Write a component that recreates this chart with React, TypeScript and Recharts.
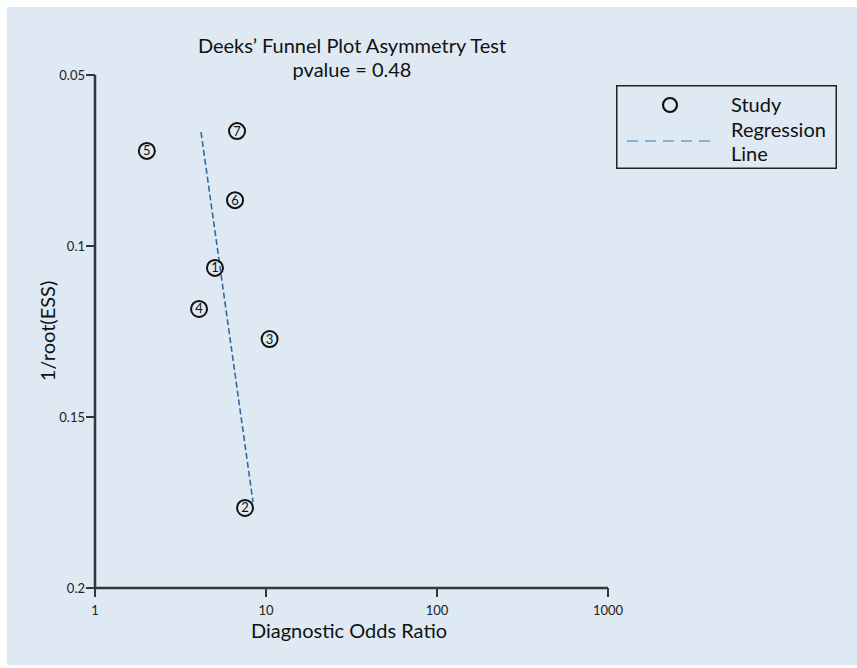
import React from "react";
import {
  ScatterChart,
  Scatter,
  XAxis,
  YAxis,
  Legend,
  Label,
  Customized,
} from "recharts";

const FONT = "Lato, 'Open Sans', sans-serif";

// studies: id, diagnostic odds ratio, 1/root(ESS)
const studyIds = ["1", "2", "3", "4", "5", "6", "7"];
const studyDor = [5.03, 7.54, 10.5, 4.06, 2.01, 6.59, 6.77];
const studyInvRootEss = [0.1064, 0.1766, 0.1272, 0.1184, 0.0722, 0.0866, 0.0664];

// fitted regression line end points
const regressionDor = [4.17, 8.4];
const regressionInvRootEss = [0.0667, 0.1749];

const xTicks = [1, 10, 100, 1000];
const yTicks = [0.05, 0.1, 0.15, 0.2];

const studyData = studyIds.map((id, i) => ({
  id,
  x: studyDor[i],
  y: studyInvRootEss[i],
}));

const regressionData = regressionDor.map((x, i) => ({
  x,
  y: regressionInvRootEss[i],
}));

const AXIS_COLOR = "#30383e";
const LINE_COLOR = "#36679e";

function StudyMarker(props: any) {
  const { cx, cy, payload } = props;
  if (cx == null || cy == null) return <g />;
  return (
    <g>
      <circle cx={cx} cy={cy} r={8} fill="none" stroke="#111" strokeWidth={2} />
      <text
        x={cx}
        y={cy + 4.5}
        textAnchor="middle"
        fontSize={13}
        fontFamily={FONT}
        fill="#111"
      >
        {payload.id}
      </text>
    </g>
  );
}

function LegendBox() {
  return (
    <svg width={221} height={84} style={{ display: "block" }}>
      <rect x={0.75} y={0.75} width={219.5} height={82.5} fill="none" stroke="#222" strokeWidth={1.5} />
      <circle cx={54} cy={20} r={7} fill="none" stroke="#111" strokeWidth={2.2} />
      <line
        x1={11}
        x2={100}
        y1={56}
        y2={56}
        stroke="#6f9ccb"
        strokeWidth={1.6}
        strokeDasharray="11 7"
      />
      <g fontFamily={FONT} fontSize={20} fill="#111">
        <text x={115} y={27}>Study</text>
        <text x={115} y={52}>Regression</text>
        <text x={115} y={76}>Line</text>
      </g>
    </svg>
  );
}

function Title() {
  return (
    <g fontFamily={FONT} fill="#111" fontSize={20}>
      <text x={352} y={53} textAnchor="middle">
        Deeks’ Funnel Plot Asymmetry Test
      </text>
      <text x={352} y={77} textAnchor="middle">
        pvalue = 0.48
      </text>
    </g>
  );
}

export default function App() {
  return (
    <div
      style={{
        position: "absolute",
        left: 0,
        top: 0,
        width: 857,
        height: 668,
        background: "#ffffff",
      }}
    >
      <div
        style={{
          position: "absolute",
          left: 7,
          top: 7,
          right: 0,
          bottom: 3,
          background: "#dfe9f3",
        }}
      />
      <ScatterChart
        width={857}
        height={668}
        margin={{ top: 75, right: 249, bottom: 50, left: 55 }}
      >
        <XAxis
          type="number"
          dataKey="x"
          scale="log"
          domain={[1, 1000]}
          ticks={xTicks}
          allowDataOverflow
          height={30}
          stroke={AXIS_COLOR}
          strokeWidth={2.5}
          tickSize={9}
          tickMargin={9}
          tick={{ fontSize: 13, fill: "#222", fontFamily: FONT }}
          tickLine={{ stroke: AXIS_COLOR, strokeWidth: 2 }}
        >
          <Label
            content={() => (
              <text
                x={349}
                y={638}
                textAnchor="middle"
                fontSize={20}
                fontFamily={FONT}
                fill="#111"
              >
                Diagnostic Odds Ratio
              </text>
            )}
          />
        </XAxis>
        <YAxis
          type="number"
          dataKey="y"
          domain={[0.05, 0.2]}
          reversed
          ticks={yTicks}
          allowDataOverflow
          width={40}
          stroke={AXIS_COLOR}
          strokeWidth={2.5}
          tickSize={9}
          tickMargin={1}
          tick={{ fontSize: 13, fill: "#222", fontFamily: FONT }}
          tickLine={{ stroke: AXIS_COLOR, strokeWidth: 2 }}
          tickFormatter={(v: number) => String(v)}
        >
          <Label
            content={() => (
              <text
                x={55}
                y={331}
                transform="rotate(-90 55 331)"
                textAnchor="middle"
                fontSize={20}
                fontFamily={FONT}
                fill="#111"
              >
                1/root(ESS)
              </text>
            )}
          />
        </YAxis>
        <Customized component={Title} />
        <Legend
          layout="vertical"
          align="center"
          verticalAlign="middle"
          wrapperStyle={{ left: 616, top: 85, width: 221, height: 84 }}
          content={() => <LegendBox />}
        />
        <Scatter
          name="Regression Line"
          data={regressionData}
          line={{ stroke: LINE_COLOR, strokeWidth: 1.6, strokeDasharray: "6 3" }}
          shape={() => <g />}
          isAnimationActive={false}
        />
        <Scatter
          name="Study"
          data={studyData}
          shape={StudyMarker}
          isAnimationActive={false}
        />
      </ScatterChart>
    </div>
  );
}
